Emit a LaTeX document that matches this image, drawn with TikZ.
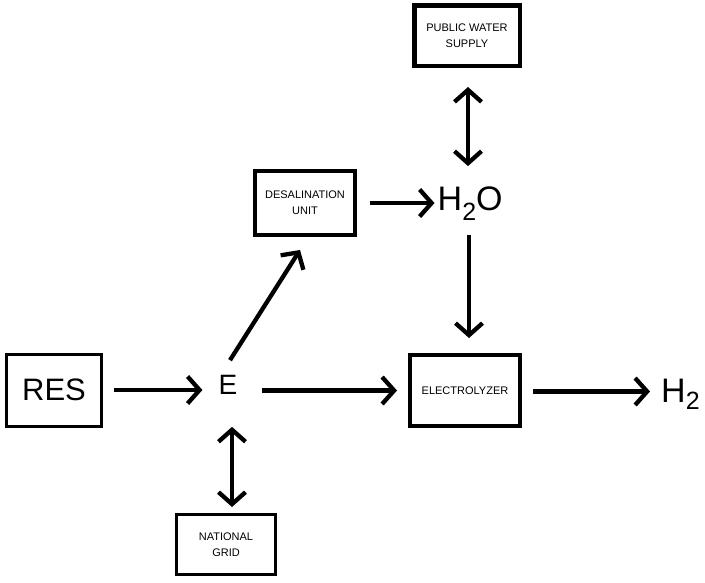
\documentclass[tikz,border=0pt]{standalone}
\usepackage{fontspec}
\setmainfont{Liberation Sans}
\usetikzlibrary{arrows.meta,calc}
\begin{document}
\begin{tikzpicture}[x=1pt,y=-1pt,
  boxnode/.style={draw, line width=#1, inner sep=0pt, align=center,
    font=\fontsize{11}{16}\selectfont},
  boxnode/.default=4pt,
  txt/.style={inner sep=0pt},
  arr/.style={line width=4.3pt, -{Straight Barb[length=12pt,width=27pt]}},
  dbl/.style={line width=4.3pt, {Straight Barb[length=12pt,width=27pt]}-{Straight Barb[length=12pt,width=27pt]}}
]
\useasboundingbox (0,0) rectangle (705,582);

% boxes
\node[boxnode=4.5pt, minimum width=105.5pt, minimum height=60.5pt] (pws) at (467,35.5) {PUBLIC WATER\\SUPPLY};
\node[boxnode=4pt, minimum width=100pt, minimum height=64pt] (desal) at (305,203) {DESALINATION\\UNIT};
\node[boxnode=3pt, minimum width=95pt, minimum height=72pt, font=\fontsize{31}{31}\selectfont] (res) at (54,390) {RES};
\node[boxnode=4pt, minimum width=110pt, minimum height=71pt] (elec) at (465,390.5) {ELECTROLYZER};
\node[boxnode=3pt, minimum width=99pt, minimum height=60pt] (grid) at (226,544.5) {NATIONAL\\GRID};

% text nodes
\node[txt, font=\fontsize{28}{28}\selectfont] (E) at (228,385) {E};
\node[txt, anchor=base west, font=\fontsize{34}{34}\selectfont] (h2o) at (437.5,210)
  {H\raisebox{-10pt}{\fontsize{25}{25}\selectfont 2}O};
\node[txt, anchor=base west, font=\fontsize{34}{34}\selectfont] (h2) at (661,402)
  {H\raisebox{-7pt}{\fontsize{25}{25}\selectfont 2}};

% connectors
\draw[arr] ($(res.east)+(11,0)$) -- ($(res.east -| E.west)+(-16,0)$);
\draw[arr] ($(elec.west -| E.east)+(24,0)$) -- ($(elec.west)+(-11,0)$);
\draw[arr] ($(elec.east)+(11,1)$) -- ($(elec.east -| h2.west)+(-11,1)$);
\draw[arr] ($(desal.east)+(13,0)$) -- ($(desal.east -| h2o.west)+(-3,0)$);
\draw[arr] ($(h2o.south -| elec.north)+(4,15)$) -- ($(elec.north)+(4,-15)$);
\draw[dbl] ($(pws.south)+(1,19)$) -- ($(pws.south |- h2o.north)+(1,-20)$);
\draw[arr] ($(E.north)+(2,-15)$) -- ($(desal.south)+(-5,13)$);
\draw[dbl] ($(E.south)+(4,32)$) -- ($(grid.north)+(6,-6)$);
\end{tikzpicture}
\end{document}
